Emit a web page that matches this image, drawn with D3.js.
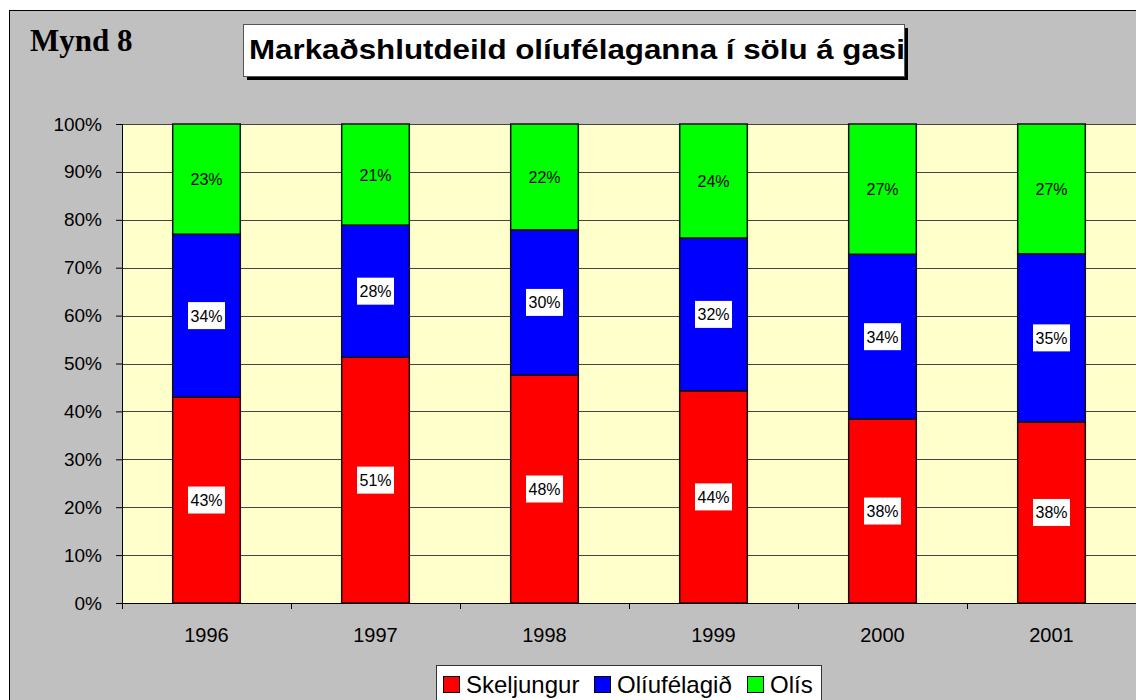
<!DOCTYPE html>
<html>
<head>
<meta charset="utf-8">
<script src="https://cdn.jsdelivr.net/npm/d3@7"></script>
<style>
  body { margin: 0; background: #fff; }
  svg { display: block; }
</style>
</head>
<body>
<div id="chart"></div>
<script>
// data
const years = ["1996", "1997", "1998", "1999", "2000", "2001"];
const skeljungur = [43.0, 51.3, 47.6, 44.3, 38.4, 37.8];
const oliufelagid = [34.0, 27.6, 30.3, 31.9, 34.4, 35.1];
const olis = [23.0, 21.1, 22.1, 23.8, 27.2, 27.1];
const seriesNames = ["Skeljungur", "Olíufélagið", "Olís"];
const seriesColors = ["#FF0000", "#0000FF", "#00FF00"];
const yTicks = [0, 10, 20, 30, 40, 50, 60, 70, 80, 90, 100];

// canvas
const width = 1136, height = 700;
const svg = d3.select("#chart").append("svg")
  .attr("width", width)
  .attr("height", height);

// chart background + border
svg.append("rect")
  .attr("x", 9.5).attr("y", 10.5)
  .attr("width", width).attr("height", height)
  .attr("fill", "#C0C0C0")
  .attr("stroke", "#000").attr("stroke-width", 1);

// plot area
const plot = { left: 122, top: 124, right: 1136, bottom: 603 };

const x = d3.scaleBand()
  .domain(years)
  .range([plot.left, plot.right])
  .paddingInner(0.6)
  .paddingOuter(0.3);

const y = d3.scaleLinear()
  .domain([0, 100])
  .range([plot.bottom, plot.top]);

svg.append("rect")
  .attr("x", plot.left).attr("y", plot.top)
  .attr("width", plot.right - plot.left).attr("height", plot.bottom - plot.top)
  .attr("fill", "#FFFFCC");

// gridlines
svg.append("g")
  .selectAll("line")
  .data(yTicks.filter(d => d > 0))
  .enter().append("line")
    .attr("x1", plot.left).attr("x2", plot.right)
    .attr("y1", d => Math.round(y(d)) + 0.5)
    .attr("y2", d => Math.round(y(d)) + 0.5)
    .attr("stroke", "#444").attr("stroke-width", 1);

// stacked bars
const table = years.map((yr, i) => ({
  year: yr,
  "Skeljungur": skeljungur[i],
  "Olíufélagið": oliufelagid[i],
  "Olís": olis[i]
}));
const stacked = d3.stack().keys(seriesNames)(table);

const groups = svg.append("g")
  .selectAll("g")
  .data(stacked)
  .enter().append("g")
    .attr("fill", (d, i) => seriesColors[i]);

groups.selectAll("rect")
  .data(d => d)
  .enter().append("rect")
    .attr("x", d => x(d.data.year))
    .attr("y", d => y(d[1]))
    .attr("width", x.bandwidth())
    .attr("height", d => y(d[0]) - y(d[1]))
    .attr("stroke", "#111").attr("stroke-width", 1.5);

// data labels (white box behind the lower two series)
const labelFont = "Liberation Sans, Arial, sans-serif";
stacked.forEach((s, si) => {
  s.forEach(d => {
    const cx = x(d.data.year) + x.bandwidth() / 2;
    const cy = (y(d[0]) + y(d[1])) / 2;
    const txt = Math.round(d[1] - d[0]) + "%";
    if (si < 2) {
      svg.append("rect")
        .attr("x", cx - 18.5).attr("y", cy - 13.5)
        .attr("width", 37).attr("height", 27)
        .attr("fill", "#fff");
    }
    svg.append("text")
      .attr("x", cx).attr("y", cy + 6)
      .attr("text-anchor", "middle")
      .attr("font-family", labelFont)
      .attr("font-size", 16)
      .attr("fill", "#000")
      .text(txt);
  });
});

// y axis
const yAxis = svg.append("g")
  .attr("transform", `translate(${plot.left},0)`)
  .call(d3.axisLeft(y).tickValues(yTicks).tickFormat(d => d + "%").tickSize(6).tickPadding(14));
yAxis.select(".domain").attr("stroke", "#000");
yAxis.selectAll("line").attr("stroke", "#000");
yAxis.selectAll("text")
  .attr("font-family", labelFont)
  .attr("font-size", 19)
  .attr("fill", "#000");

// x axis
const xAxisG = svg.append("g")
  .attr("transform", `translate(0,${plot.bottom})`);
xAxisG.append("line")
  .attr("x1", plot.left).attr("x2", plot.right)
  .attr("y1", 0.5).attr("y2", 0.5)
  .attr("stroke", "#000");
const step = x.step();
xAxisG.selectAll("line.tick")
  .data(d3.range(years.length + 1))
  .enter().append("line")
    .attr("class", "tick")
    .attr("x1", i => Math.round(plot.left + i * step) + 0.5)
    .attr("x2", i => Math.round(plot.left + i * step) + 0.5)
    .attr("y1", 0).attr("y2", 6)
    .attr("stroke", "#000");
xAxisG.selectAll("text")
  .data(years)
  .enter().append("text")
    .attr("x", d => x(d) + x.bandwidth() / 2)
    .attr("y", 39)
    .attr("text-anchor", "middle")
    .attr("font-family", labelFont)
    .attr("font-size", 20)
    .attr("fill", "#000")
    .text(d => d);

// "Mynd 8"
svg.append("text")
  .attr("x", 30).attr("y", 51)
  .attr("font-family", "Liberation Serif, Times New Roman, serif")
  .attr("font-weight", "bold")
  .attr("font-size", 31)
  .attr("fill", "#000")
  .text("Mynd 8");

// title box with shadow
const tb = { x: 243, y: 24, w: 661, h: 52 };
svg.append("rect")
  .attr("x", tb.x + 4).attr("y", tb.y + 4)
  .attr("width", tb.w).attr("height", tb.h)
  .attr("fill", "#000");
svg.append("rect")
  .attr("x", tb.x + 0.5).attr("y", tb.y + 0.5)
  .attr("width", tb.w).attr("height", tb.h)
  .attr("fill", "#fff")
  .attr("stroke", "#555").attr("stroke-width", 1);
svg.append("text")
  .attr("x", 249).attr("y", 59)
  .attr("font-family", labelFont)
  .attr("font-weight", "bold")
  .attr("font-size", 27)
  .attr("textLength", 656)
  .attr("lengthAdjust", "spacingAndGlyphs")
  .attr("fill", "#000")
  .text("Markaðshlutdeild olíufélaganna í sölu á gasi");

// legend
const lg = svg.append("g");
lg.append("rect")
  .attr("x", 436.5).attr("y", 665.5)
  .attr("width", 385).attr("height", 60)
  .attr("fill", "#fff")
  .attr("stroke", "#333").attr("stroke-width", 1);
const legendX = [443, 594, 747];
seriesNames.forEach((name, i) => {
  lg.append("rect")
    .attr("x", legendX[i] + 0.5).attr("y", 676.5)
    .attr("width", 16).attr("height", 16)
    .attr("fill", seriesColors[i])
    .attr("stroke", "#000").attr("stroke-width", 1);
  lg.append("text")
    .attr("x", legendX[i] + 23).attr("y", 693)
    .attr("font-family", labelFont)
    .attr("font-size", 24)
    .attr("fill", "#000")
    .text(name);
});
</script>
</body>
</html>
